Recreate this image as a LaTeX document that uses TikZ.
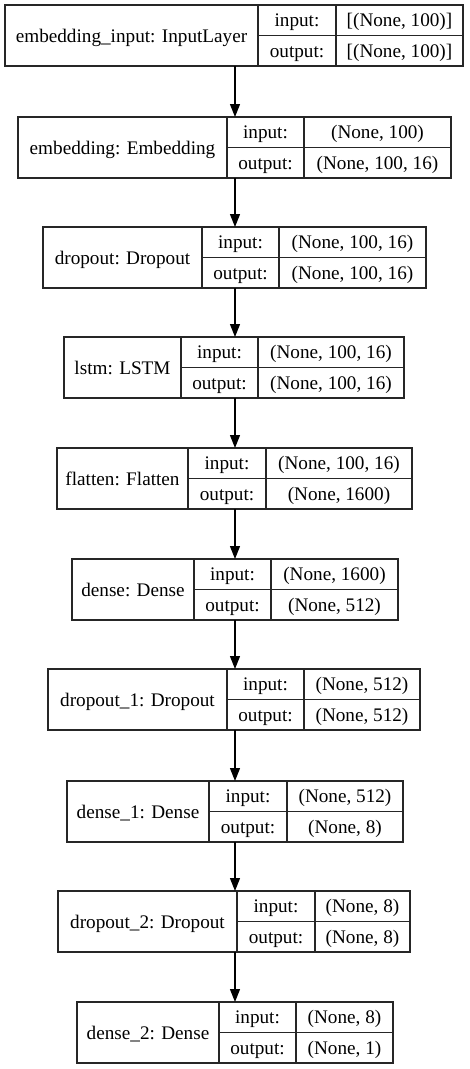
\documentclass[tikz,border=0pt]{standalone}
\usepackage{fontspec}
\setmainfont{Liberation Serif}
\newfontfamily\kerasfont{Liberation Serif}
\usetikzlibrary{arrows.meta}
\tikzset{
  x=1pt, y=1pt,
  boxline/.style={draw=black!85, line width=1.3pt},
  txt/.style={inner sep=0pt, font=\kerasfont\fontsize{19.2}{23}\selectfont, text height=13pt, text depth=0pt, anchor=center},
  flow/.style={draw=black, line width=1.3pt, -{Triangle[length=13pt,width=10pt]}},
}
% #1 name, #2 top, #3 left, #4 div1, #5 div2, #6 right, #7 label, #8 input, #9 output
\newcommand\klayer[9]{%
  \node[boxline, inner sep=0pt, outer sep=0pt, minimum width={#6-#3}, minimum height=61, anchor=north west] (#1) at (#3,-#2) {};
  \draw[boxline] (#4,-#2) -- ++(0,-61) (#5,-#2) -- ++(0,-61) (#4,{-#2-30.5}) -- (#6,{-#2-30.5});
  \node[txt] (#1-name) at ({(#3+#4)/2},{-#2-30.5}) {#7};
  \node[txt] (#1-ik) at ({(#4+#5)/2},{-#2-15.25}) {input:};
  \node[txt] (#1-iv) at ({(#5+#6)/2},{-#2-15.25}) {#8};
  \node[txt] (#1-ok) at ({(#4+#5)/2},{-#2-45.75}) {output:};
  \node[txt] (#1-ov) at ({(#5+#6)/2},{-#2-45.75}) {#9};
}
\begin{document}
\begin{tikzpicture}
\path[fill=white] (0,0) rectangle (469,-1069);
\useasboundingbox (0,0) rectangle (469,-1069);
\klayer{L1}{5}{5}{258}{336}{463}{embedding\_input: InputLayer}{[(None, 100)]}{[(None, 100)]}
\klayer{L2}{117}{18}{227}{304}{451}{embedding: Embedding}{(None, 100)}{(None, 100, 16)}
\klayer{L3}{227}{43}{202}{279}{426}{dropout: Dropout}{(None, 100, 16)}{(None, 100, 16)}
\klayer{L4}{337}{64}{181}{258}{404}{lstm: LSTM}{(None, 100, 16)}{(None, 100, 16)}
\klayer{L5}{448}{57}{188}{266}{412}{flatten: Flatten}{(None, 100, 16)}{(None, 1600)}
\klayer{L6}{559}{72}{194}{271}{398}{dense: Dense}{(None, 1600)}{(None, 512)}
\klayer{L7}{669}{48}{227}{304}{420}{dropout\_1: Dropout}{(None, 512)}{(None, 512)}
\klayer{L8}{781}{67}{209}{287}{403}{dense\_1: Dense}{(None, 512)}{(None, 8)}
\klayer{L9}{891}{58}{237}{315}{410}{dropout\_2: Dropout}{(None, 8)}{(None, 8)}
\klayer{L10}{1002}{77}{219}{296}{393}{dense\_2: Dense}{(None, 8)}{(None, 1)}
\coordinate (ax) at (235,0);
\foreach \a/\b in {L1/L2,L2/L3,L3/L4,L4/L5,L5/L6,L6/L7,L7/L8,L8/L9,L9/L10}
  \draw[flow] (\a.south -| ax) -- (\b.north -| ax);
\end{tikzpicture}
\end{document}
